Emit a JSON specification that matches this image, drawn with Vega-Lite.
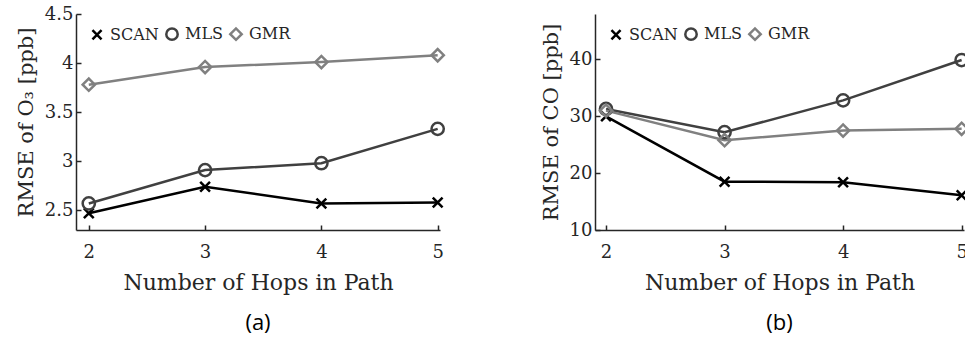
{
  "$schema": "https://vega.github.io/schema/vega-lite/v6.json",
  "bounds": "flush",
  "spacing": 155,
  "padding": {"left": 15, "top": 5, "right": 0, "bottom": 0},
  "background": "white",
  "datasets": {
    "o3": [
      {"hops": 2, "method": "SCAN", "rmse": 2.47},
      {"hops": 3, "method": "SCAN", "rmse": 2.74},
      {"hops": 4, "method": "SCAN", "rmse": 2.57},
      {"hops": 5, "method": "SCAN", "rmse": 2.58},
      {"hops": 2, "method": "MLS", "rmse": 2.57},
      {"hops": 3, "method": "MLS", "rmse": 2.91},
      {"hops": 4, "method": "MLS", "rmse": 2.98},
      {"hops": 5, "method": "MLS", "rmse": 3.33},
      {"hops": 2, "method": "GMR", "rmse": 3.78},
      {"hops": 3, "method": "GMR", "rmse": 3.96},
      {"hops": 4, "method": "GMR", "rmse": 4.01},
      {"hops": 5, "method": "GMR", "rmse": 4.08}
    ],
    "co": [
      {"hops": 2, "method": "SCAN", "rmse": 30.0},
      {"hops": 3, "method": "SCAN", "rmse": 18.5},
      {"hops": 4, "method": "SCAN", "rmse": 18.4},
      {"hops": 5, "method": "SCAN", "rmse": 16.1},
      {"hops": 2, "method": "MLS", "rmse": 31.3},
      {"hops": 3, "method": "MLS", "rmse": 27.2},
      {"hops": 4, "method": "MLS", "rmse": 32.8},
      {"hops": 5, "method": "MLS", "rmse": 39.9},
      {"hops": 2, "method": "GMR", "rmse": 31.0},
      {"hops": 3, "method": "GMR", "rmse": 25.8},
      {"hops": 4, "method": "GMR", "rmse": 27.5},
      {"hops": 5, "method": "GMR", "rmse": 27.8}
    ]
  },
  "config": {
    "view": {"stroke": null},
    "font": "DejaVu Serif",
    "axis": {
      "grid": false,
      "domainColor": "#262626", "domainWidth": 1.5,
      "tickColor": "#262626", "tickWidth": 1.5, "tickSize": -5,
      "labelFont": "DejaVu Serif", "labelFontSize": 18, "labelColor": "#262626",
      "titleFont": "DejaVu Serif", "titleFontWeight": "normal", "titleColor": "#262626"
    },
    "axisX": {"labelPadding": 18, "titleFontSize": 22, "titlePadding": 11},
    "axisY": {"labelPadding": 8, "titleFontSize": 21, "titlePadding": 8},
    "legend": {
      "orient": "none", "legendX": 13, "legendY": 12, "direction": "horizontal", "title": null,
      "labelFont": "DejaVu Serif", "labelFontSize": 16, "labelColor": "#262626",
      "symbolStrokeWidth": 2.5, "symbolSize": 130, "columnPadding": 2, "labelOffset": 5,
      "padding": 0
    },
    "title": {"font": "Open Sans", "fontSize": 22, "fontWeight": "normal", "color": "#000000", "orient": "bottom", "frame": "group", "offset": 20}
  },
  "resolve": {"scale": {"x": "independent", "y": "independent"}, "legend": {"color": "independent", "shape": "independent"}},
  "hconcat": [
    {
      "width": 364, "height": 216,
      "title": {"text": "(a)"},
      "data": {"name": "o3"},
      "encoding": {
        "x": {"field": "hops", "type": "quantitative", "scale": {"domain": [1.89, 5.02], "nice": false, "zero": false}, "axis": {"values": [2, 3, 4, 5], "format": "d", "title": "Number of Hops in Path"}},
        "y": {"field": "rmse", "type": "quantitative", "scale": {"domain": [2.3, 4.5], "nice": false, "zero": false}, "axis": {"values": [2.5, 3, 3.5, 4, 4.5], "format": "~g", "title": "RMSE of O₃ [ppb]"}},
        "color": {"field": "method", "type": "nominal", "scale": {"domain": ["SCAN", "MLS", "GMR"], "range": ["#000000", "#404040", "#808080"]}}
      },
      "layer": [
        {"mark": {"type": "line", "strokeWidth": 2.5}},
        {"mark": {"type": "point", "filled": false, "strokeWidth": 2.5, "opacity": 1, "size": 150},
         "encoding": {"shape": {"field": "method", "type": "nominal", "scale": {"domain": ["SCAN", "MLS", "GMR"], "range": ["M-0.8,-0.8L0.8,0.8M-0.8,0.8L0.8,-0.8", "circle", "diamond"]}}}}
      ]
    },
    {
      "width": 369, "height": 216,
      "title": {"text": "(b)"},
      "data": {"name": "co"},
      "encoding": {
        "x": {"field": "hops", "type": "quantitative", "scale": {"domain": [1.907, 5.02], "nice": false, "zero": false}, "axis": {"values": [2, 3, 4, 5], "format": "d", "title": "Number of Hops in Path"}},
        "y": {"field": "rmse", "type": "quantitative", "scale": {"domain": [10, 48], "nice": false, "zero": false}, "axis": {"values": [10, 20, 30, 40], "format": "d", "title": "RMSE of CO [ppb]"}},
        "color": {"field": "method", "type": "nominal", "scale": {"domain": ["SCAN", "MLS", "GMR"], "range": ["#000000", "#404040", "#808080"]}}
      },
      "layer": [
        {"mark": {"type": "line", "strokeWidth": 2.5}},
        {"mark": {"type": "point", "filled": false, "strokeWidth": 2.5, "opacity": 1, "size": 150},
         "encoding": {"shape": {"field": "method", "type": "nominal", "scale": {"domain": ["SCAN", "MLS", "GMR"], "range": ["M-0.8,-0.8L0.8,0.8M-0.8,0.8L0.8,-0.8", "circle", "diamond"]}}}}
      ]
    }
  ]
}
